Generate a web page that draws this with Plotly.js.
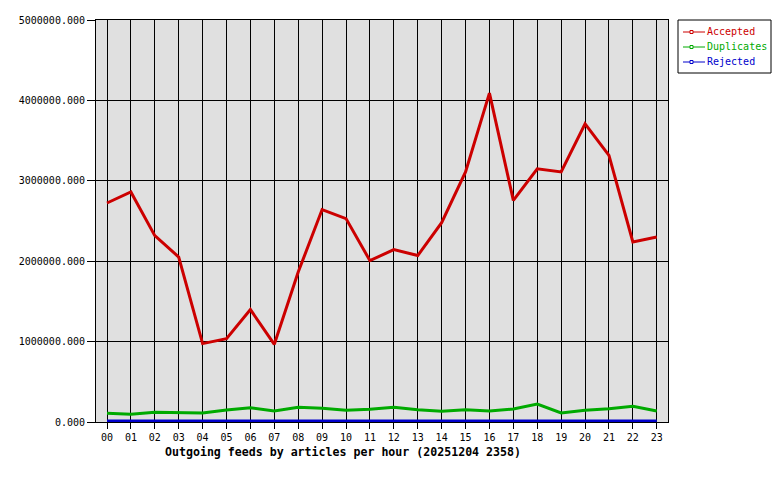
<!DOCTYPE html>
<html>
<head>
<meta charset="utf-8">
<script src="https://cdn.plot.ly/plotly-3.0.1.min.js"></script>
<style>html,body{margin:0;padding:0;background:#fff;}#chart{width:780px;height:480px;}</style>
</head>
<body>
<div id="chart"></div>
<script>
var hours = ["00","01","02","03","04","05","06","07","08","09","10","11","12","13","14","15","16","17","18","19","20","21","22","23"];
var accepted = [2724000,2861000,2318000,2052000,975000,1037000,1398000,966000,1865000,2642000,2530000,2007000,2144000,2070000,2480000,3110000,4090000,2757000,3150000,3110000,3710000,3317000,2239000,2300000];
var duplicates = [108000,96000,120000,112000,112000,150000,178000,137000,183000,170000,145000,158000,183000,153000,133000,152000,137000,162000,224000,112000,145000,165000,195000,137000];
var rejected = [12000,12000,12000,12000,12000,12000,12000,12000,12000,12000,12000,12000,12000,12000,12000,12000,12000,12000,12000,12000,12000,12000,12000,12000];
var yTicks = [0,1000000,2000000,3000000,4000000,5000000];
var seriesNames = ["Accepted","Duplicates","Rejected"];
var colors = ["#cc0000","#00aa00","#0000cc"];
var seriesData = [accepted, duplicates, rejected];

var mono = "DejaVu Sans Mono, monospace";
var W = 780, H = 480, L = 96, R = 112, T = 20, B = 58;
var pw = W - L - R, ph = H - T - B;
function px(x){ return (x - L) / pw; }
function py(y){ return (H - B - y) / ph; }

var xIdx = hours.map(function(h, i){ return i; });
var traces = [];
[2,1,0].forEach(function(k){
  traces.push({
    x: xIdx, y: seriesData[k], type: "scatter", mode: "lines",
    name: seriesNames[k],
    line: {color: colors[k], width: 3}, showlegend: false, hoverinfo: "skip"
  });
});

// custom legend (box, sample lines, markers, labels)
var shapes = [{
  type: "rect", xref: "paper", yref: "paper",
  x0: px(678), x1: px(771), y0: py(73), y1: py(20),
  line: {color: "#000", width: 1}, fillcolor: "#fff", layer: "above"
}];
var annotations = [];
var rowY = [32, 47, 62];
seriesNames.forEach(function(n, k){
  var yy = rowY[k];
  shapes.push({type: "line", xref: "paper", yref: "paper",
    x0: px(683), x1: px(705), y0: py(yy), y1: py(yy),
    line: {color: colors[k], width: 1}, layer: "above"});
  shapes.push({type: "rect", xref: "paper", yref: "paper",
    x0: px(690), x1: px(693), y0: py(yy + 1.5), y1: py(yy - 1.5),
    line: {color: colors[k], width: 1}, fillcolor: "#fff", layer: "above"});
  annotations.push({xref: "paper", yref: "paper", x: px(705), y: py(yy),
    xanchor: "left", yanchor: "middle", showarrow: false,
    text: n, font: {family: mono, size: 10, color: colors[k]}});
});
annotations.push({
  xref: "paper", yref: "paper", x: px(343), y: py(452),
  xanchor: "center", yanchor: "middle", showarrow: false,
  text: "<b>Outgoing feeds by articles per hour (20251204 2358)</b>",
  font: {family: mono, size: 11.6, color: "#000"}
});

var layout = {
  width: W, height: H,
  margin: {l: L, r: R, t: T, b: B, autoexpand: false},
  paper_bgcolor: "#ffffff",
  plot_bgcolor: "#e0e0e0",
  font: {family: mono, size: 10, color: "#000"},
  showlegend: false,
  xaxis: {
    range: [-0.46, 23.47],
    tickmode: "array", tickvals: xIdx, ticktext: hours,
    showgrid: true, gridcolor: "#000", gridwidth: 1,
    zeroline: false,
    showline: true, linecolor: "#000", linewidth: 1, mirror: true,
    ticks: "outside", ticklen: 6, tickcolor: "#000", tickwidth: 1,
    tickfont: {family: mono, size: 10, color: "#000"}
  },
  yaxis: {
    range: [0, 5000000],
    tickmode: "array", tickvals: yTicks,
    tickformat: ".3f",
    showgrid: true, gridcolor: "#000", gridwidth: 1,
    zeroline: false,
    showline: true, linecolor: "#000", linewidth: 1, mirror: true,
    ticks: "outside", ticklen: 8, tickcolor: "#000", tickwidth: 1,
    tickfont: {family: mono, size: 10, color: "#000"}
  },
  shapes: shapes,
  annotations: annotations
};
Plotly.newPlot("chart", traces, layout, {staticPlot: true, displayModeBar: false});
</script>
</body>
</html>
